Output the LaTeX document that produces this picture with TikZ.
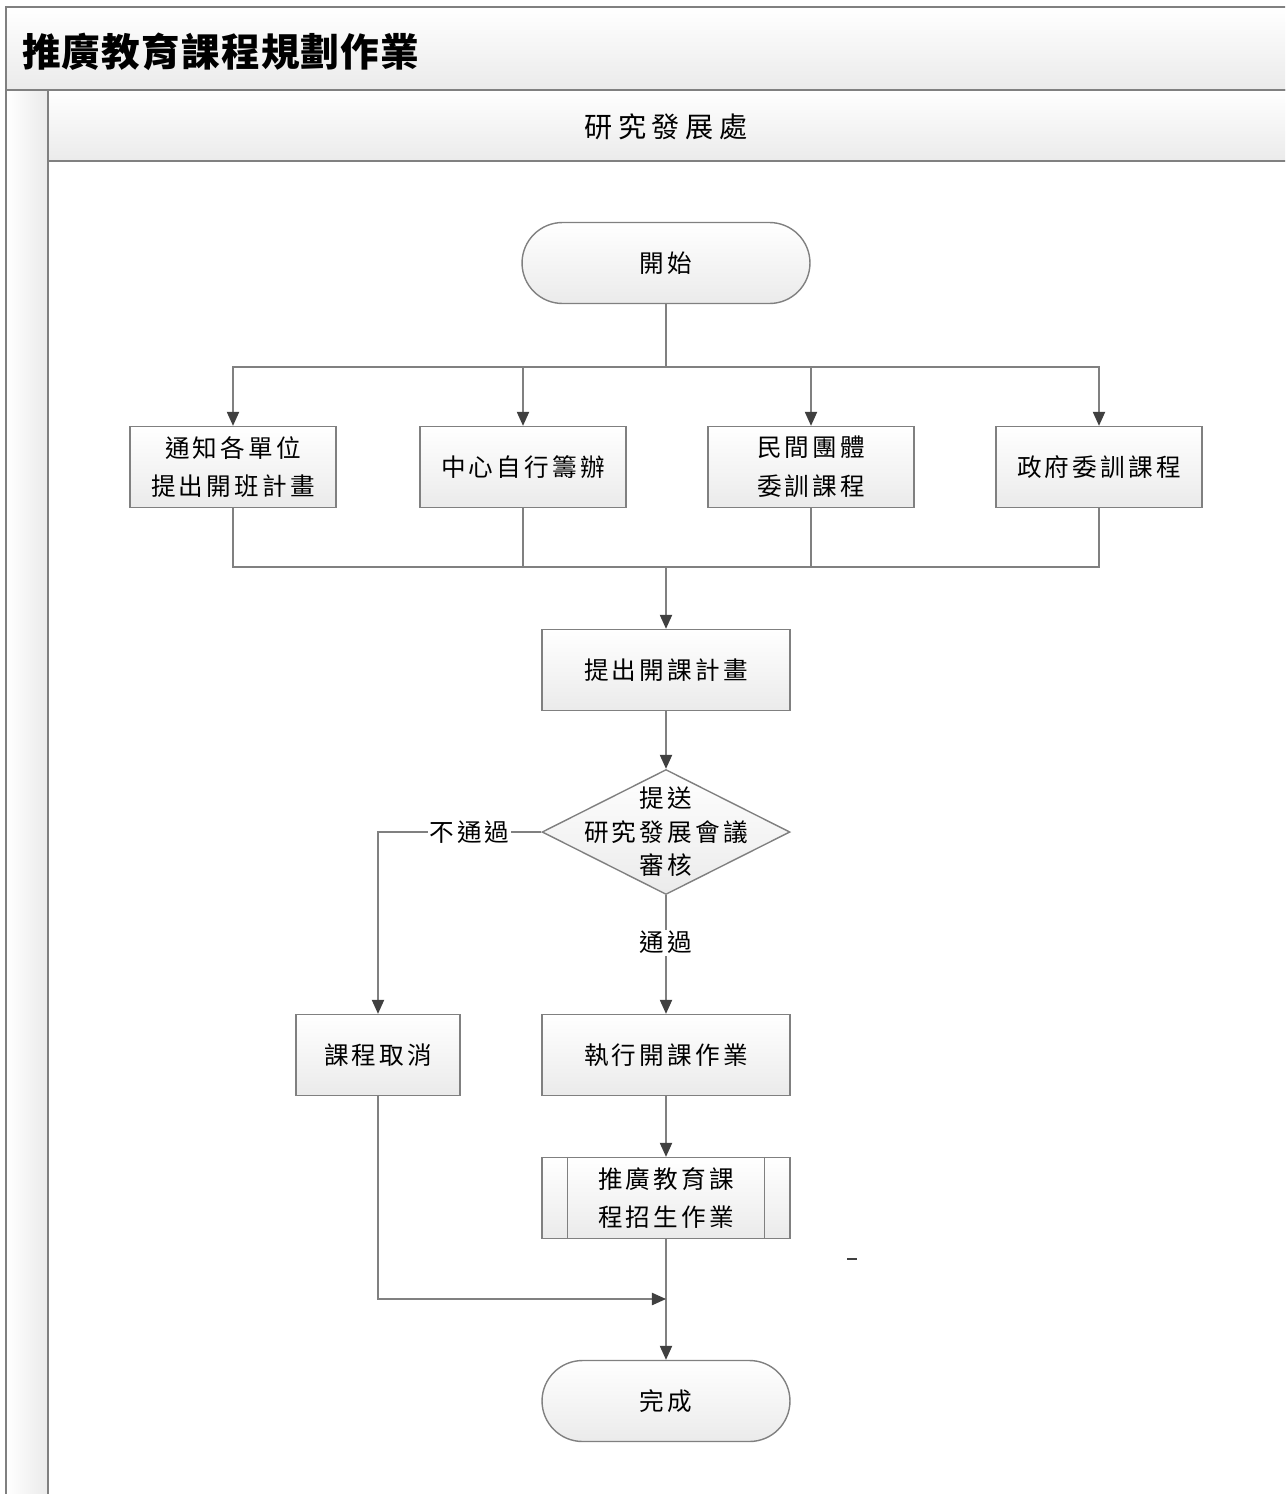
\documentclass[tikz,border=0pt]{standalone}
\usepackage{fontspec}
\setmainfont[LetterSpace=13]{Noto Sans CJK TC}
\usetikzlibrary{arrows.meta,calc,shapes.geometric}
\newcommand{\SideBars}[1]{\draw[box line] ($(#1.north west)+(26,0)$) -- ($(#1.south west)+(26,0)$) ($(#1.north east)+(-26,0)$) -- ($(#1.south east)+(-26,0)$);}

\tikzset{
  box line/.style={draw=black!50, line width=0.8pt},
  shade box/.style={box line, top color=white, bottom color=black!8},
  proc/.style={shade box, rectangle, minimum width=4.12cm, minimum height=1.62cm, inner sep=2pt, align=center, font=\fontsize{14}{22}\selectfont},
  term/.style={proc, rounded corners=0.81cm, minimum width=5.76cm},
  decide/.style={shade box, diamond, minimum width=4.96cm, minimum height=2.5cm, inner sep=0pt},
  link/.style={draw=black!50, line width=0.8pt},
  flow/.style={link, -{Triangle[length=8pt,width=7pt,color=black!75]}},
  tag/.style={fill=white, inner sep=1pt, font=\fontsize{14}{18}\selectfont},
}

\begin{document}
\begin{tikzpicture}[x=0.02cm, y=-0.02cm]
\useasboundingbox (0,0) rectangle (1285,1494);
\clip (0,0) rectangle (1285,1494);

% pool and lane
\draw[shade box] (6,7) rectangle (1300,90);
\node[anchor=west, font=\fontsize{22}{26}\selectfont\bfseries\addfontfeatures{LetterSpace=3}] (pool) at (16,52) {推廣教育課程規劃作業};
\draw[box line, left color=white, right color=black!8] (6,90) rectangle (48,1520);
\draw[shade box] (48,90) rectangle (1300,161);
\node[font=\fontsize{16}{20}\selectfont\addfontfeatures{LetterSpace=20}] (lane) at (666,127) {研究發展處};

\node[term] (start) at (666,263) {開始};
\node[proc] (b1) at (233,467) {通知各單位\\提出開班計畫};
\node[proc] (b2) at (523,467) {中心自行籌辦};
\node[proc] (b3) at (811,467) {民間團體\\委訓課程};
\node[proc] (b4) at (1099,467) {政府委訓課程};
\node[proc, minimum width=4.96cm] (plan) at (666,670) {提出開課計畫};
\node[decide, label={[align=center, font=\fontsize{14}{19}\selectfont]center:{提送\\研究發展會議\\審核}}] (chk) at (666,832) {};
\node[proc, minimum width=3.28cm] (cancel) at (378,1055) {課程取消};
\node[proc, minimum width=4.96cm] (run) at (666,1055) {執行開課作業};
\node[proc, minimum width=4.96cm] (enrol) at (666,1198) {推廣教育課\\程招生作業};
\SideBars{enrol}
\node[term, minimum width=4.96cm] (done) at (666,1401) {完成};

\coordinate (fork) at (666,367);
\coordinate (join) at (666,567);
\coordinate (back) at (666,1299);

\draw[link] (start) -- (fork);
\foreach \b in {b1,b2,b3,b4} {
  \draw[flow] (fork) -| (\b);
  \draw[link] (\b) |- (join);
}
\draw[flow] (join) -- (plan);
\draw[flow] (plan) -- (chk);
\draw[flow] (chk.west) -| node[tag, pos=0.22] {不通過} (cancel);
\draw[flow] (chk.south) -- node[tag, pos=0.4] {通過} (run);
\draw[flow] (run) -- (enrol);
\draw[flow] (enrol) -- (done);
\draw[flow] (cancel) |- (back);

\draw[black!75, line width=0.8pt] (847,1259) -- (857,1259);
\end{tikzpicture}
\end{document}
